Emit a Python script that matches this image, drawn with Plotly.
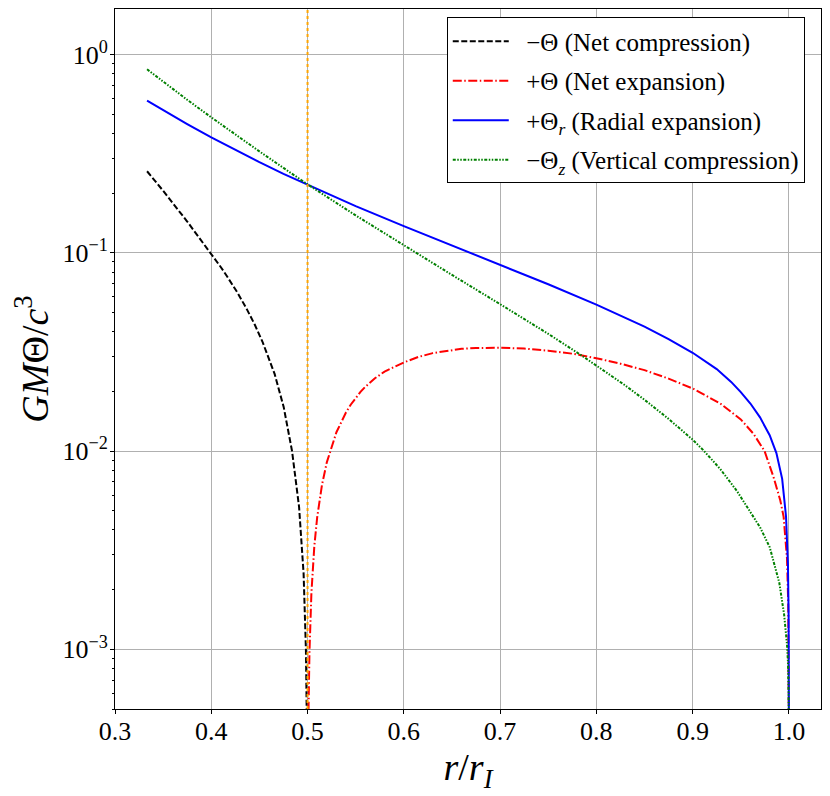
import plotly.graph_objects as go

# ---- data ----
r_net_comp = [0.3333, 0.35, 0.375, 0.3993, 0.41, 0.4158, 0.427, 0.4369, 0.445, 0.4531, 0.4658,
              0.4752, 0.4839, 0.4912, 0.4959, 0.4983, 0.4992]
net_compression = [0.258, 0.2056, 0.1439, 0.1000, 0.0846, 0.0769, 0.0632, 0.0520, 0.0436, 0.0357,
                   0.0245, 0.0167, 0.0100, 0.00523, 0.00241, 0.0010, 0.00045]

r_net_exp = [0.501, 0.502, 0.504, 0.507, 0.51, 0.515, 0.52, 0.53, 0.54, 0.545,
             0.555, 0.56, 0.57, 0.58, 0.6, 0.615, 0.63, 0.645, 0.66, 0.675,
             0.69, 0.7, 0.725, 0.75, 0.775, 0.8, 0.825, 0.85, 0.875, 0.9,
             0.9286, 0.95, 0.9632, 0.9747, 0.984, 0.991, 0.9945, 0.998, 0.9993, 0.9999,
             0.99997]
net_expansion = [0.00049, 0.00097, 0.00192, 0.0033, 0.00463, 0.00676, 0.00877, 0.01245, 0.0157, 0.01718,
                 0.0199, 0.0211, 0.0233, 0.02518, 0.0280, 0.02983, 0.0312, 0.0321, 0.0328, 0.0331,
                 0.0333, 0.0332, 0.0329, 0.0321, 0.0310, 0.0294, 0.0276, 0.0256, 0.0232, 0.0207,
                 0.0174, 0.01445, 0.01223, 0.0100, 0.0074, 0.00565, 0.00466, 0.00288, 0.0017, 0.00071,
                 0.0004]

r_radial = [0.3333, 0.35, 0.375, 0.4, 0.425, 0.45, 0.475, 0.5, 0.55, 0.6, 0.65, 0.7, 0.75,
            0.8, 0.825, 0.85, 0.875, 0.9, 0.925, 0.94, 0.95, 0.96, 0.97, 0.98, 0.987, 0.993,
            0.997, 0.999, 0.9997, 0.9999, 0.99997]
radial_expansion = [0.586, 0.5243, 0.4463, 0.3821, 0.3299, 0.2865, 0.2503, 0.2205, 0.1722, 0.1365,
                    0.1089, 0.0871, 0.0694, 0.0548, 0.04842, 0.04240, 0.03673, 0.03133, 0.02591,
                    0.02234, 0.01982, 0.01738, 0.01479, 0.01202, 0.00977, 0.00724, 0.00468,
                    0.00269, 0.00148, 0.00085, 0.00047]

r_vertical = [0.3333, 0.35, 0.375, 0.4, 0.425, 0.45, 0.475, 0.5, 0.55, 0.6, 0.65, 0.7, 0.75,
              0.785, 0.8, 0.829, 0.85, 0.875, 0.9, 0.911, 0.9286, 0.946, 0.97, 0.98, 0.99,
              0.995, 0.998, 0.999, 0.9995, 0.9999]
vertical_compression = [0.843, 0.7303, 0.5916, 0.4824, 0.3948, 0.3248, 0.2681, 0.2215, 0.1545,
                        0.1088, 0.0774, 0.0551, 0.03903, 0.03028, 0.02702, 0.02160, 0.01815,
                        0.01454, 0.01142, 0.01011, 0.00813, 0.00629, 0.00413, 0.00328, 0.00217,
                        0.00150, 0.00106, 0.000863, 0.000663, 0.000438]

critical_r = 0.5

x_tick_vals = [0.3, 0.4, 0.5, 0.6, 0.7, 0.8, 0.9, 1.0]
x_tick_text = ["0.3", "0.4", "0.5", "0.6", "0.7", "0.8", "0.9", "1.0"]
y_tick_vals = [1e-3, 1e-2, 1e-1, 1e0]
y_tick_text = ["10<sup>−3</sup>", "10<sup>−2</sup>", "10<sup>−1</sup>", "10<sup>0</sup>"]
y_minor_vals = [m * 10.0 ** e for e in (-4, -3, -2, -1, 0) for m in range(2, 10)]

labels = [
    "−Θ (Net compression)",
    "+Θ (Net expansion)",
    "+Θ<sub><i>r</i></sub> (Radial expansion)",
    "−Θ<sub><i>z</i></sub> (Vertical compression)",
]

FONT = "'Liberation Serif', 'DejaVu Serif', 'Times New Roman', serif"
GAP = "\u2002"  # visual gap between legend sample and text

fig = go.Figure()
fig.add_trace(go.Scatter(x=r_net_comp, y=net_compression, mode="lines", name=GAP + labels[0],
                         legendgroup="a",
                         line=dict(color="black", width=2, dash="6px,2.5px")))
fig.add_trace(go.Scatter(x=r_net_exp, y=net_expansion, mode="lines", name=GAP + labels[1],
                         legendgroup="b",
                         line=dict(color="red", width=2, dash="9px,2.5px,1.5px,2.5px")))
fig.add_trace(go.Scatter(x=r_radial, y=radial_expansion, mode="lines", name=GAP + labels[2],
                         legendgroup="c",
                         line=dict(color="blue", width=2)))
fig.add_trace(go.Scatter(x=r_vertical, y=vertical_compression, mode="lines", name=GAP + labels[3],
                         legendgroup="d",
                         line=dict(color="green", width=2,
                                   dash="3px,1.5px,1.5px,1.5px,1.5px,1.5px")))

fig.add_shape(type="line", xref="x", yref="paper", x0=critical_r, x1=critical_r, y0=0, y1=1,
              line=dict(color="orange", width=2, dash="dot"), layer="above")

axis_common = dict(
    showline=True, linecolor="black", linewidth=1, mirror=True,
    ticks="outside", ticklen=4, tickwidth=1, tickcolor="black",
    showgrid=True, gridcolor="#b0b0b0", gridwidth=1, zeroline=False,
    tickfont=dict(family=FONT, size=26, color="black"),
)

fig.update_xaxes(range=[0.3, 1.03333], tickmode="array", tickvals=x_tick_vals,
                 ticktext=x_tick_text, ticklabelstandoff=-5,
                 title=dict(text="<i>r</i>/<i>r</i><sub><i>I</i></sub>",
                            font=dict(family=FONT, size=38, color="black"), standoff=0),
                 **axis_common)
fig.update_yaxes(type="log", range=[-3.301, 0.23], tickmode="array", tickvals=y_tick_vals,
                 ticktext=y_tick_text, ticklabelstandoff=-3,
                 minor=dict(tickmode="array", tickvals=y_minor_vals, ticks="outside",
                            ticklen=2, tickcolor="black", showgrid=False),
                 title=dict(text="<i>GM</i>Θ/<i>c</i><sup>3</sup>",
                            font=dict(family=FONT, size=38, color="black"), standoff=5),
                 **axis_common)

# the page body adds an 8px margin, so the figure is 8px smaller than the window
fig.update_layout(
    width=822, height=788,
    margin=dict(l=107, r=9, t=1, b=87),
    font=dict(family=FONT, color="black"),
    paper_bgcolor="white", plot_bgcolor="white",
    showlegend=True,
    legend=dict(x=0.977, y=0.988, xanchor="right", yanchor="top",
                bgcolor="white", bordercolor="black", borderwidth=1,
                font=dict(family=FONT, size=25, color="black"),
                tracegroupgap=4, itemwidth=56),
)

fig.write_html("out.html")
